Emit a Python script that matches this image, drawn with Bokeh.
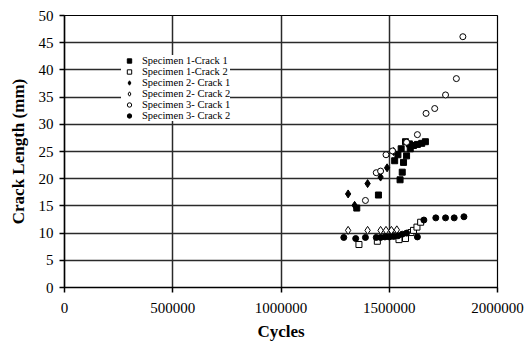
from bokeh.plotting import figure
from bokeh.models import Range1d, FixedTicker, NumeralTickFormatter, Legend, LegendItem
from bokeh.embed import file_html
from bokeh.resources import INLINE

# ---- data ----
s1c1_x = [1350000, 1450000, 1550000, 1560000, 1525000, 1540000, 1555000, 1566000, 1580000,
          1597000, 1575000, 1593000, 1612000, 1630000, 1650000, 1667000]
s1c1_y = [14.6, 17.0, 19.8, 21.2, 23.3, 24.4, 25.5, 23.0, 24.2, 25.5, 26.8, 26.4, 26.1, 26.3, 26.5, 26.8]

s1c2_x = [1360000, 1445000, 1520000, 1545000, 1575000, 1600000, 1612000, 1628000, 1645000]
s1c2_y = [7.9, 8.5, 9.5, 8.8, 9.0, 10.1, 10.5, 11.1, 12.0]

s2c1_x = [1310000, 1340000, 1400000, 1460000, 1490000, 1520000]
s2c1_y = [17.2, 15.1, 19.1, 20.3, 22.0, 25.0]

s2c2_x = [1310000, 1400000, 1460000, 1485000, 1510000, 1535000]
s2c2_y = [10.5, 10.5, 10.5, 10.5, 10.5, 10.6]

s3c1_x = [1390000, 1440000, 1460000, 1485000, 1515000, 1580000, 1630000, 1670000, 1710000,
          1760000, 1810000, 1840000]
s3c1_y = [16.0, 21.1, 21.4, 24.4, 25.1, 26.7, 28.1, 32.0, 32.9, 35.4, 38.4, 46.1]

s3c2_x = [1290000, 1345000, 1390000, 1440000, 1460000, 1480000, 1500000, 1520000, 1540000,
          1560000, 1580000, 1630000, 1660000, 1715000, 1760000, 1800000, 1845000]
s3c2_y = [9.2, 9.0, 9.2, 9.2, 9.2, 9.3, 9.3, 9.4, 9.5, 9.8, 10.0, 9.3, 12.4, 12.8, 12.8, 12.8, 13.0]

labels = ["Specimen 1-Crack 1", "Specimen 1-Crack 2", "Specimen 2- Crack 1",
          "Specimen 2- Crack 2", "Specimen 3- Crack 1", "Specimen 3- Crack 2"]

x_ticks = [0, 500000, 1000000, 1500000, 2000000]
y_ticks = [0, 5, 10, 15, 20, 25, 30, 35, 40, 45, 50]

FONT = "Liberation Serif"

p = figure(width=529, height=345, output_backend="svg", toolbar_location=None,
           x_range=Range1d(0, 2000000), y_range=Range1d(0, 50),
           min_border_left=64, min_border_right=32, min_border_top=15, min_border_bottom=58)
p.background_fill_color = "white"
p.border_fill_color = "white"
p.outline_line_color = "black"
p.outline_line_width = 1.2

for ax in (p.xaxis[0], p.yaxis[0]):
    ax.major_label_text_font = FONT
    ax.major_label_text_font_size = "15px"
    ax.major_label_text_color = "black"
    ax.axis_label_text_font = FONT
    ax.axis_label_text_font_size = "17px"
    ax.axis_label_text_font_style = "bold"
    ax.axis_label_text_color = "black"
    ax.axis_line_color = "black"
    ax.axis_line_width = 1.5
    ax.major_tick_line_color = "black"
    ax.major_tick_line_width = 1.5
    ax.major_tick_in = 0
    ax.major_tick_out = 5
    ax.minor_tick_line_color = None

p.xaxis.major_label_standoff = 10
p.xaxis.axis_label_standoff = 6
p.yaxis.major_label_standoff = 6
p.yaxis.axis_label_standoff = 8

p.xaxis.ticker = FixedTicker(ticks=x_ticks)
p.xaxis.formatter = NumeralTickFormatter(format="0")
p.yaxis.ticker = FixedTicker(ticks=y_ticks)
p.xaxis.axis_label = "Cycles"
p.yaxis.axis_label = "Crack Length (mm)"

p.xgrid.ticker = FixedTicker(ticks=x_ticks)
p.ygrid.ticker = FixedTicker(ticks=y_ticks)
for g in (p.xgrid[0], p.ygrid[0]):
    g.grid_line_color = "#2a2a2a"
    g.grid_line_width = 1.5

# series
r1 = p.scatter(s1c1_x, s1c1_y, marker="square", size=6, fill_color="black", line_color="black")
r1l = p.line(x=[], y=[], line_color="black", line_width=1.5)
r2 = p.scatter(s1c2_x, s1c2_y, marker="square", size=6, fill_color="white", line_color="black", line_width=1)
r2l = p.line(x=[], y=[], line_color="black", line_width=1)
r3 = p.scatter(s2c1_x, s2c1_y, marker="diamond", size=8, fill_color="black", line_color="black")
r4 = p.scatter(s2c2_x, s2c2_y, marker="diamond", size=8, fill_color="white", line_color="black", line_width=1)
r5 = p.scatter(s3c1_x, s3c1_y, marker="circle", size=6, fill_color="white", line_color="black", line_width=1)
r6 = p.scatter(s3c2_x, s3c2_y, marker="circle", size=6, fill_color="black", line_color="black")

items = [
    LegendItem(label=labels[0], renderers=[r1l, r1]),
    LegendItem(label=labels[1], renderers=[r2l, r2]),
    LegendItem(label=labels[2], renderers=[r3]),
    LegendItem(label=labels[3], renderers=[r4]),
    LegendItem(label=labels[4], renderers=[r5]),
    LegendItem(label=labels[5], renderers=[r6]),
]
legend = Legend(items=items, location=(57, 166), orientation="vertical")
legend.label_text_font = FONT
legend.label_text_font_size = "10.5px"
legend.label_text_color = "black"
legend.label_height = 11
legend.glyph_height = 11
legend.glyph_width = 16
legend.label_standoff = 5
legend.spacing = 0
legend.padding = 4
legend.margin = 0
legend.border_line_color = None
legend.background_fill_color = "white"
legend.background_fill_alpha = 1.0
p.add_layout(legend, "center")

open("out.html", "w").write(file_html(p, INLINE))
